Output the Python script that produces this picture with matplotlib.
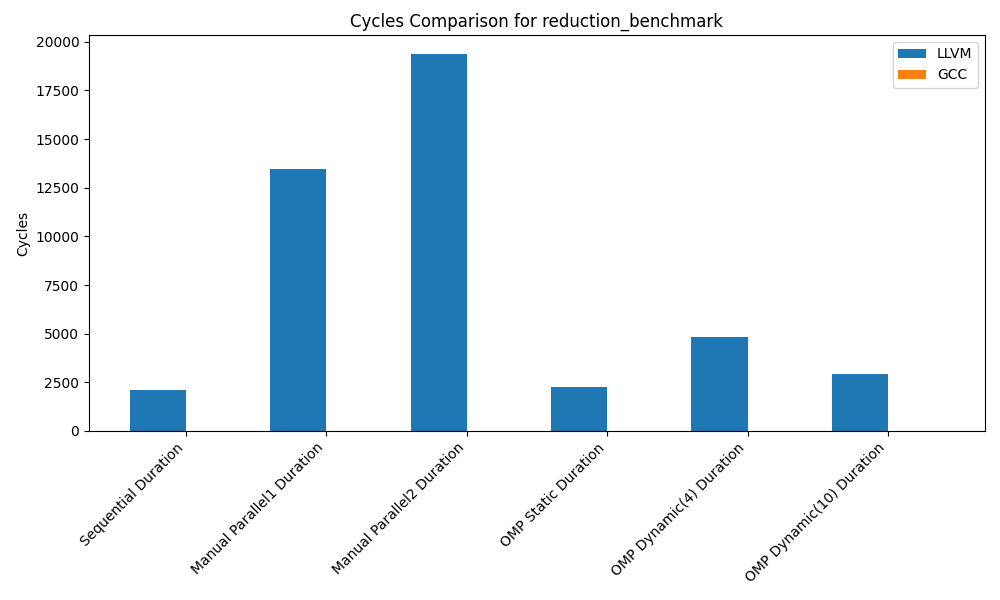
import matplotlib
matplotlib.use('Agg')
import matplotlib.pyplot as plt
import numpy as np

# data
labels = ['Sequential Duration', 'Manual Parallel1 Duration', 'Manual Parallel2 Duration',
          'OMP Static Duration', 'OMP Dynamic(4) Duration', 'OMP Dynamic(10) Duration']
llvm = [2110, 13460, 19380, 2260, 4830, 2930]
gcc = [0, 0, 0, 0, 0, 0]

x = np.arange(len(labels))
width = 0.4

fig, ax = plt.subplots(figsize=(10, 6))
ax.bar(x - width / 2, llvm, width, label='LLVM')
ax.bar(x + width / 2, gcc, width, label='GCC')

ax.set_ylabel('Cycles')
ax.set_title('Cycles Comparison for reduction_benchmark')
ax.set_xticks(x)
ax.set_xticklabels(labels, rotation=45, ha='right')
ax.legend()

plt.subplots_adjust(left=0.089, right=0.985, top=0.9417, bottom=0.2817)
plt.savefig('out.png', dpi=100)
